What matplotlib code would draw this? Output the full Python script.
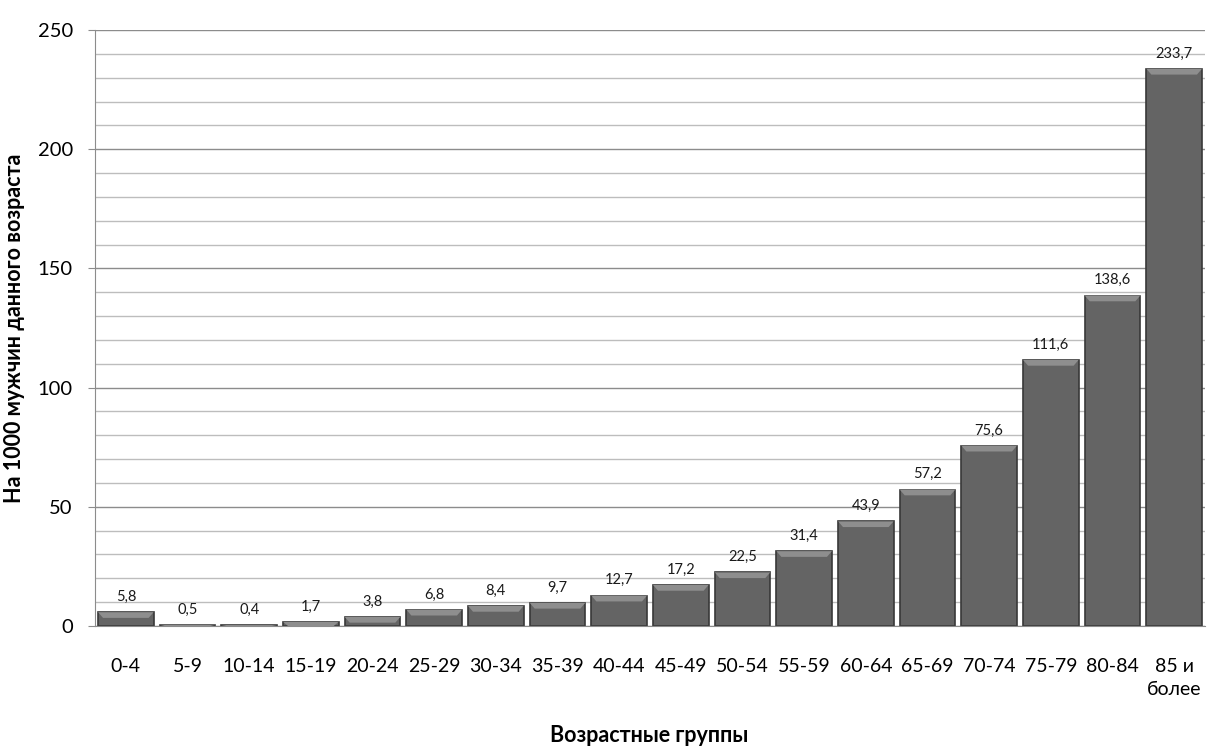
import numpy as np
import matplotlib.pyplot as plt
from matplotlib.patches import Polygon

# age groups and rates per 1000 men
groups = ['0-4', '5-9', '10-14', '15-19', '20-24', '25-29', '30-34', '35-39',
          '40-44', '45-49', '50-54', '55-59', '60-64', '65-69', '70-74',
          '75-79', '80-84', '85 и\nболее']
rates = [5.8, 0.5, 0.4, 1.7, 3.8, 6.8, 8.4, 9.7, 12.7, 17.2, 22.5, 31.4,
         43.9, 57.2, 75.6, 111.6, 138.6, 233.7]
labels = ['5,8', '0,5', '0,4', '1,7', '3,8', '6,8', '8,4', '9,7', '12,7', '17,2',
          '22,5', '31,4', '43,9', '57,2', '75,6', '111,6', '138,6', '233,7']

plt.rcParams['font.family'] = ['Lato', 'Open Sans', 'DejaVu Sans']

fig = plt.figure(figsize=(12.11, 7.5), dpi=100)
ax = fig.add_axes([95 / 1211, 1 - 626 / 750, 1110 / 1211, 596 / 750])

x = np.arange(len(groups))
w = 0.9

# gridlines
ax.set_ylim(0, 250)
ax.set_xlim(-0.5, len(groups) - 0.5)
ax.set_yticks(np.arange(0, 251, 50))
ax.set_yticks(np.arange(0, 251, 10), minor=True)
ax.grid(axis='y', which='minor', color='#bdbdbd', linewidth=1)
ax.grid(axis='y', which='major', color='#8c8c8c', linewidth=1)
ax.set_axisbelow(True)

ax.bar(x, rates, width=w, color='#646464', edgecolor='#383838', linewidth=1.2, zorder=2)

# bevel on top of each bar
dh = 2.4
dx = 0.08
for xi, v in zip(x, rates):
    h = min(dh, v)
    top = Polygon([(xi - w / 2, v), (xi + w / 2, v),
                   (xi + w / 2 - dx, v - h), (xi - w / 2 + dx, v - h)],
                  closed=True, facecolor='#8e8e8e', edgecolor='none', zorder=3)
    ax.add_patch(top)

for xi, v, t in zip(x, rates, labels):
    ax.annotate(t, (xi, v), xytext=(0, 6), textcoords='offset points',
                ha='center', va='bottom', fontsize=10.5, color='#1a1a1a')

ax.set_xticks(x)
ax.set_xticklabels(groups, fontsize=14, linespacing=1.4, va='top')
ax.tick_params(axis='x', length=0, pad=23)
ax.tick_params(axis='y', which='major', length=5, color='#8c8c8c', pad=11, labelsize=14.5)
ax.tick_params(axis='y', which='minor', length=0)

for s in ['top', 'right']:
    ax.spines[s].set_visible(False)
ax.spines['left'].set_color('#8c8c8c')
ax.spines['bottom'].set_color('#8c8c8c')

fig.text(649 / 1211, 1 - 735 / 750, 'Возрастные группы',
         ha='center', va='center', fontsize=15.5, fontweight='bold')
fig.text(15 / 1211, 1 - 328 / 750, 'На 1000 мужчин данного возраста',
         ha='center', va='center', rotation=90, fontsize=15.5, fontweight='bold')

fig.savefig('out.png', dpi=100)
